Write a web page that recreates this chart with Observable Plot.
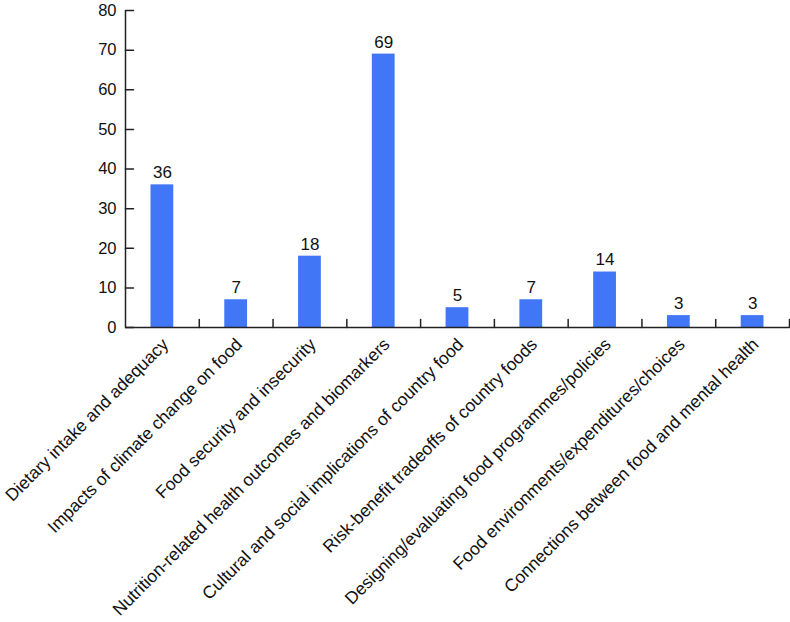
<!DOCTYPE html>
<html>
<head>
<meta charset="utf-8">
<script src="https://cdn.jsdelivr.net/npm/d3@7"></script>
<script src="https://cdn.jsdelivr.net/npm/@observablehq/plot@0.6"></script>
<style>
  html, body { margin: 0; padding: 0; background: #fff; }
  svg { display: block; }
</style>
</head>
<body>
<div id="chart"></div>
<script>
const categories = [
  "Dietary intake and adequacy",
  "Impacts of climate change on food",
  "Food security and insecurity",
  "Nutrition-related health outcomes and biomarkers",
  "Cultural and social implications of country food",
  "Risk-benefit tradeoffs of country foods",
  "Designing/evaluating food programmes/policies",
  "Food environments/expenditures/choices",
  "Connections between food and mental health"
];
const counts = [36, 7, 18, 69, 5, 7, 14, 3, 3];
const yTicks = [0, 10, 20, 30, 40, 50, 60, 70, 80];

const data = categories.map((c, i) => ({cat: c, i, value: counts[i]}));
const boundaries = d3.range(1, categories.length + 1);

const font = "'Liberation Sans', Arial, sans-serif";
const axisColor = "#222";
const line = {draw(context, l) { context.moveTo(0, 0); context.lineTo(0, -l); }};

const chart = Plot.plot({
  width: 790,
  height: 622,
  marginLeft: 125,
  marginRight: 1,
  marginTop: 10,
  marginBottom: 295,
  style: {fontFamily: font, background: "#fff"},
  x: {domain: [0, categories.length], axis: null},
  y: {domain: [0, 80], axis: null},
  marks: [
    Plot.rectY(data, {x1: d => d.i, x2: d => d.i + 1, y: "value", fill: "#4177f7", insetLeft: 25.5, insetRight: 25.5}),
    Plot.text(data, {x: d => d.i + 0.5, y: "value", text: d => String(d.value), dy: -12, fontSize: 17, fill: "#111"}),
    // y axis
    Plot.ruleX([0], {y1: 0, y2: 80, stroke: axisColor, strokeWidth: 1.5}),
    Plot.vector(yTicks, {x: 0, y: d => d, rotate: 90, length: 8, anchor: "start", shape: line, stroke: axisColor, strokeWidth: 1.5}),
    Plot.text(yTicks, {x: 0, y: d => d, text: d => String(d), textAnchor: "end", dx: -9, fontSize: 16.5, fill: "#111"}),
    // x axis
    Plot.ruleY([0], {x1: 0, x2: categories.length, stroke: axisColor, strokeWidth: 1.5}),
    Plot.vector(boundaries, {x: d => d, y: 0, rotate: 0, length: 8, anchor: "start", shape: line, stroke: axisColor, strokeWidth: 1.5}),
    Plot.text(data, {x: d => d.i + 0.5, y: 0, text: "cat", rotate: -45, textAnchor: "end", lineAnchor: "bottom", dx: 7, dy: 18, fontSize: 17.5, fill: "#111"})
  ]
});
document.getElementById("chart").appendChild(chart);
</script>
</body>
</html>
